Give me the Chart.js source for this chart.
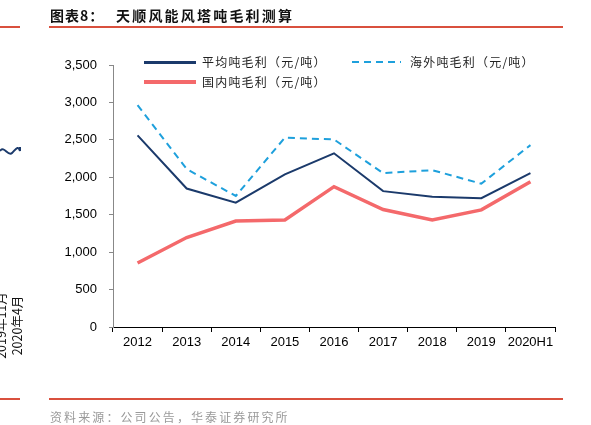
<!DOCTYPE html>
<html>
<head>
<meta charset="utf-8">
<script src="https://cdn.jsdelivr.net/npm/chart.js@4/dist/chart.umd.min.js"></script>
<style>
    body { margin: 0; background: #fff; }
    #page { position: relative; width: 591px; height: 425px; overflow: hidden; font-family: "Noto Sans CJK SC", sans-serif; }
    #chart { position: absolute; left: 0; top: 0; }
    .abs { position: absolute; white-space: nowrap; }
    .rule { position: absolute; height: 1.5px; background: #d9503e; }
    .legend-text { font-size: 12px; letter-spacing: 1.2px; color: #222; line-height: 16px; }
</style>
</head>
<body>
<div id="page">
    <canvas id="chart" width="591" height="425"></canvas>

    <!-- header / footer -->
    <div class="abs" style="left:50px; top:5px; font-size:14px; font-weight:bold; letter-spacing:1px; color:#111;">图表8：</div>
    <div class="abs" style="left:116px; top:5px; font-size:14px; font-weight:bold; letter-spacing:2.2px; color:#111;">天顺风能风塔吨毛利测算</div>
    <div class="rule" style="left:49px; top:26px; width:514px;"></div>
    <div class="rule" style="left:0; top:26px; width:20px;"></div>
    <div class="rule" style="left:49px; top:398px; width:514px;"></div>
    <div class="rule" style="left:0; top:398px; width:20px;"></div>
    <div class="abs" style="left:50px; top:408px; font-size:12px; letter-spacing:2.1px; color:#9a9a9a;">资料来源：公司公告，华泰证券研究所</div>

    <!-- fragments of the neighbouring column -->
    <svg class="abs" style="left:0; top:143px;" width="24" height="20">
        <path d="M0 8 C4 2, 8 14, 12 10 S18 2, 20 8 L20 4" stroke="#1b3a6b" stroke-width="2" fill="none"/>
    </svg>
    <div class="abs" style="left:-33px; top:316px; font-size:12.5px; color:#111; transform:rotate(-90deg);">2019年11月</div>
    <div class="abs" style="left:-13px; top:316px; font-size:12.5px; color:#111; transform:rotate(-90deg);">2020年4月</div>

    <!-- legend -->
    <div class="abs" style="left:144px; top:61px; width:52px; height:2.5px; background:#1b3a6b;"></div>
    <div class="abs legend-text" style="left:202px; top:54px;">平均吨毛利（元/吨）</div>
    <div class="abs" style="left:352px; top:61px; width:49px; height:2px; background:repeating-linear-gradient(90deg, #1ea0dc 0 7px, transparent 7px 12px);"></div>
    <div class="abs legend-text" style="left:410px; top:54px;">海外吨毛利（元/吨）</div>
    <div class="abs" style="left:144px; top:80px; width:52px; height:4px; background:#f4696b;"></div>
    <div class="abs legend-text" style="left:202px; top:74px;">国内吨毛利（元/吨）</div>
</div>

<script>
    // categories and series (元/吨)
    const years = ['2012', '2013', '2014', '2015', '2016', '2017', '2018', '2019', '2020H1'];
    const avgMargin = [2560, 1850, 1660, 2040, 2320, 1815, 1740, 1720, 2055];
    const overseasMargin = [2965, 2110, 1750, 2530, 2505, 2055, 2095, 1915, 2430];
    const domesticMargin = [855, 1195, 1415, 1430, 1875, 1570, 1430, 1565, 1940];
    const yTicks = [0, 500, 1000, 1500, 2000, 2500, 3000, 3500];

    const tickFont = { family: 'Liberation Sans', size: 13 };

    const ctx = document.getElementById('chart').getContext('2d');
    new Chart(ctx, {
        type: 'line',
        data: {
            labels: years,
            datasets: [
                {
                    label: '国内吨毛利（元/吨）',
                    data: domesticMargin,
                    borderColor: '#f4696b',
                    borderWidth: 3.5,
                    pointRadius: 0,
                    tension: 0
                },
                {
                    label: '海外吨毛利（元/吨）',
                    data: overseasMargin,
                    borderColor: '#1ea0dc',
                    borderWidth: 2,
                    borderDash: [7, 5],
                    pointRadius: 0,
                    tension: 0
                },
                {
                    label: '平均吨毛利（元/吨）',
                    data: avgMargin,
                    borderColor: '#1b3a6b',
                    borderWidth: 2,
                    pointRadius: 0,
                    tension: 0
                }
            ]
        },
        options: {
            responsive: false,
            animation: false,
            devicePixelRatio: 1,
            layout: { padding: { left: 0, top: 65, right: 36, bottom: 0 } },
            plugins: {
                legend: { display: false },
                tooltip: { enabled: false }
            },
            scales: {
                x: {
                    offset: true,
                    afterFit: s => { s.height = 98; },
                    grid: { drawOnChartArea: false, drawTicks: true, tickLength: 5, offset: true, color: '#000' },
                    border: { color: '#000', width: 1 },
                    ticks: { color: '#000', font: tickFont, padding: 3, maxRotation: 0, autoSkip: false }
                },
                y: {
                    min: yTicks[0],
                    max: yTicks[yTicks.length - 1],
                    afterFit: s => { s.width = 113; },
                    afterBuildTicks: s => { s.ticks = yTicks.map(v => ({ value: v })); },
                    grid: { drawOnChartArea: false, drawTicks: true, tickLength: 4, color: '#888' },
                    border: { color: '#888', width: 1 },
                    ticks: {
                        color: '#000',
                        font: tickFont,
                        padding: 12,
                        callback: v => v.toLocaleString('en-US')
                    }
                }
            }
        }
    });
</script>
</body>
</html>
